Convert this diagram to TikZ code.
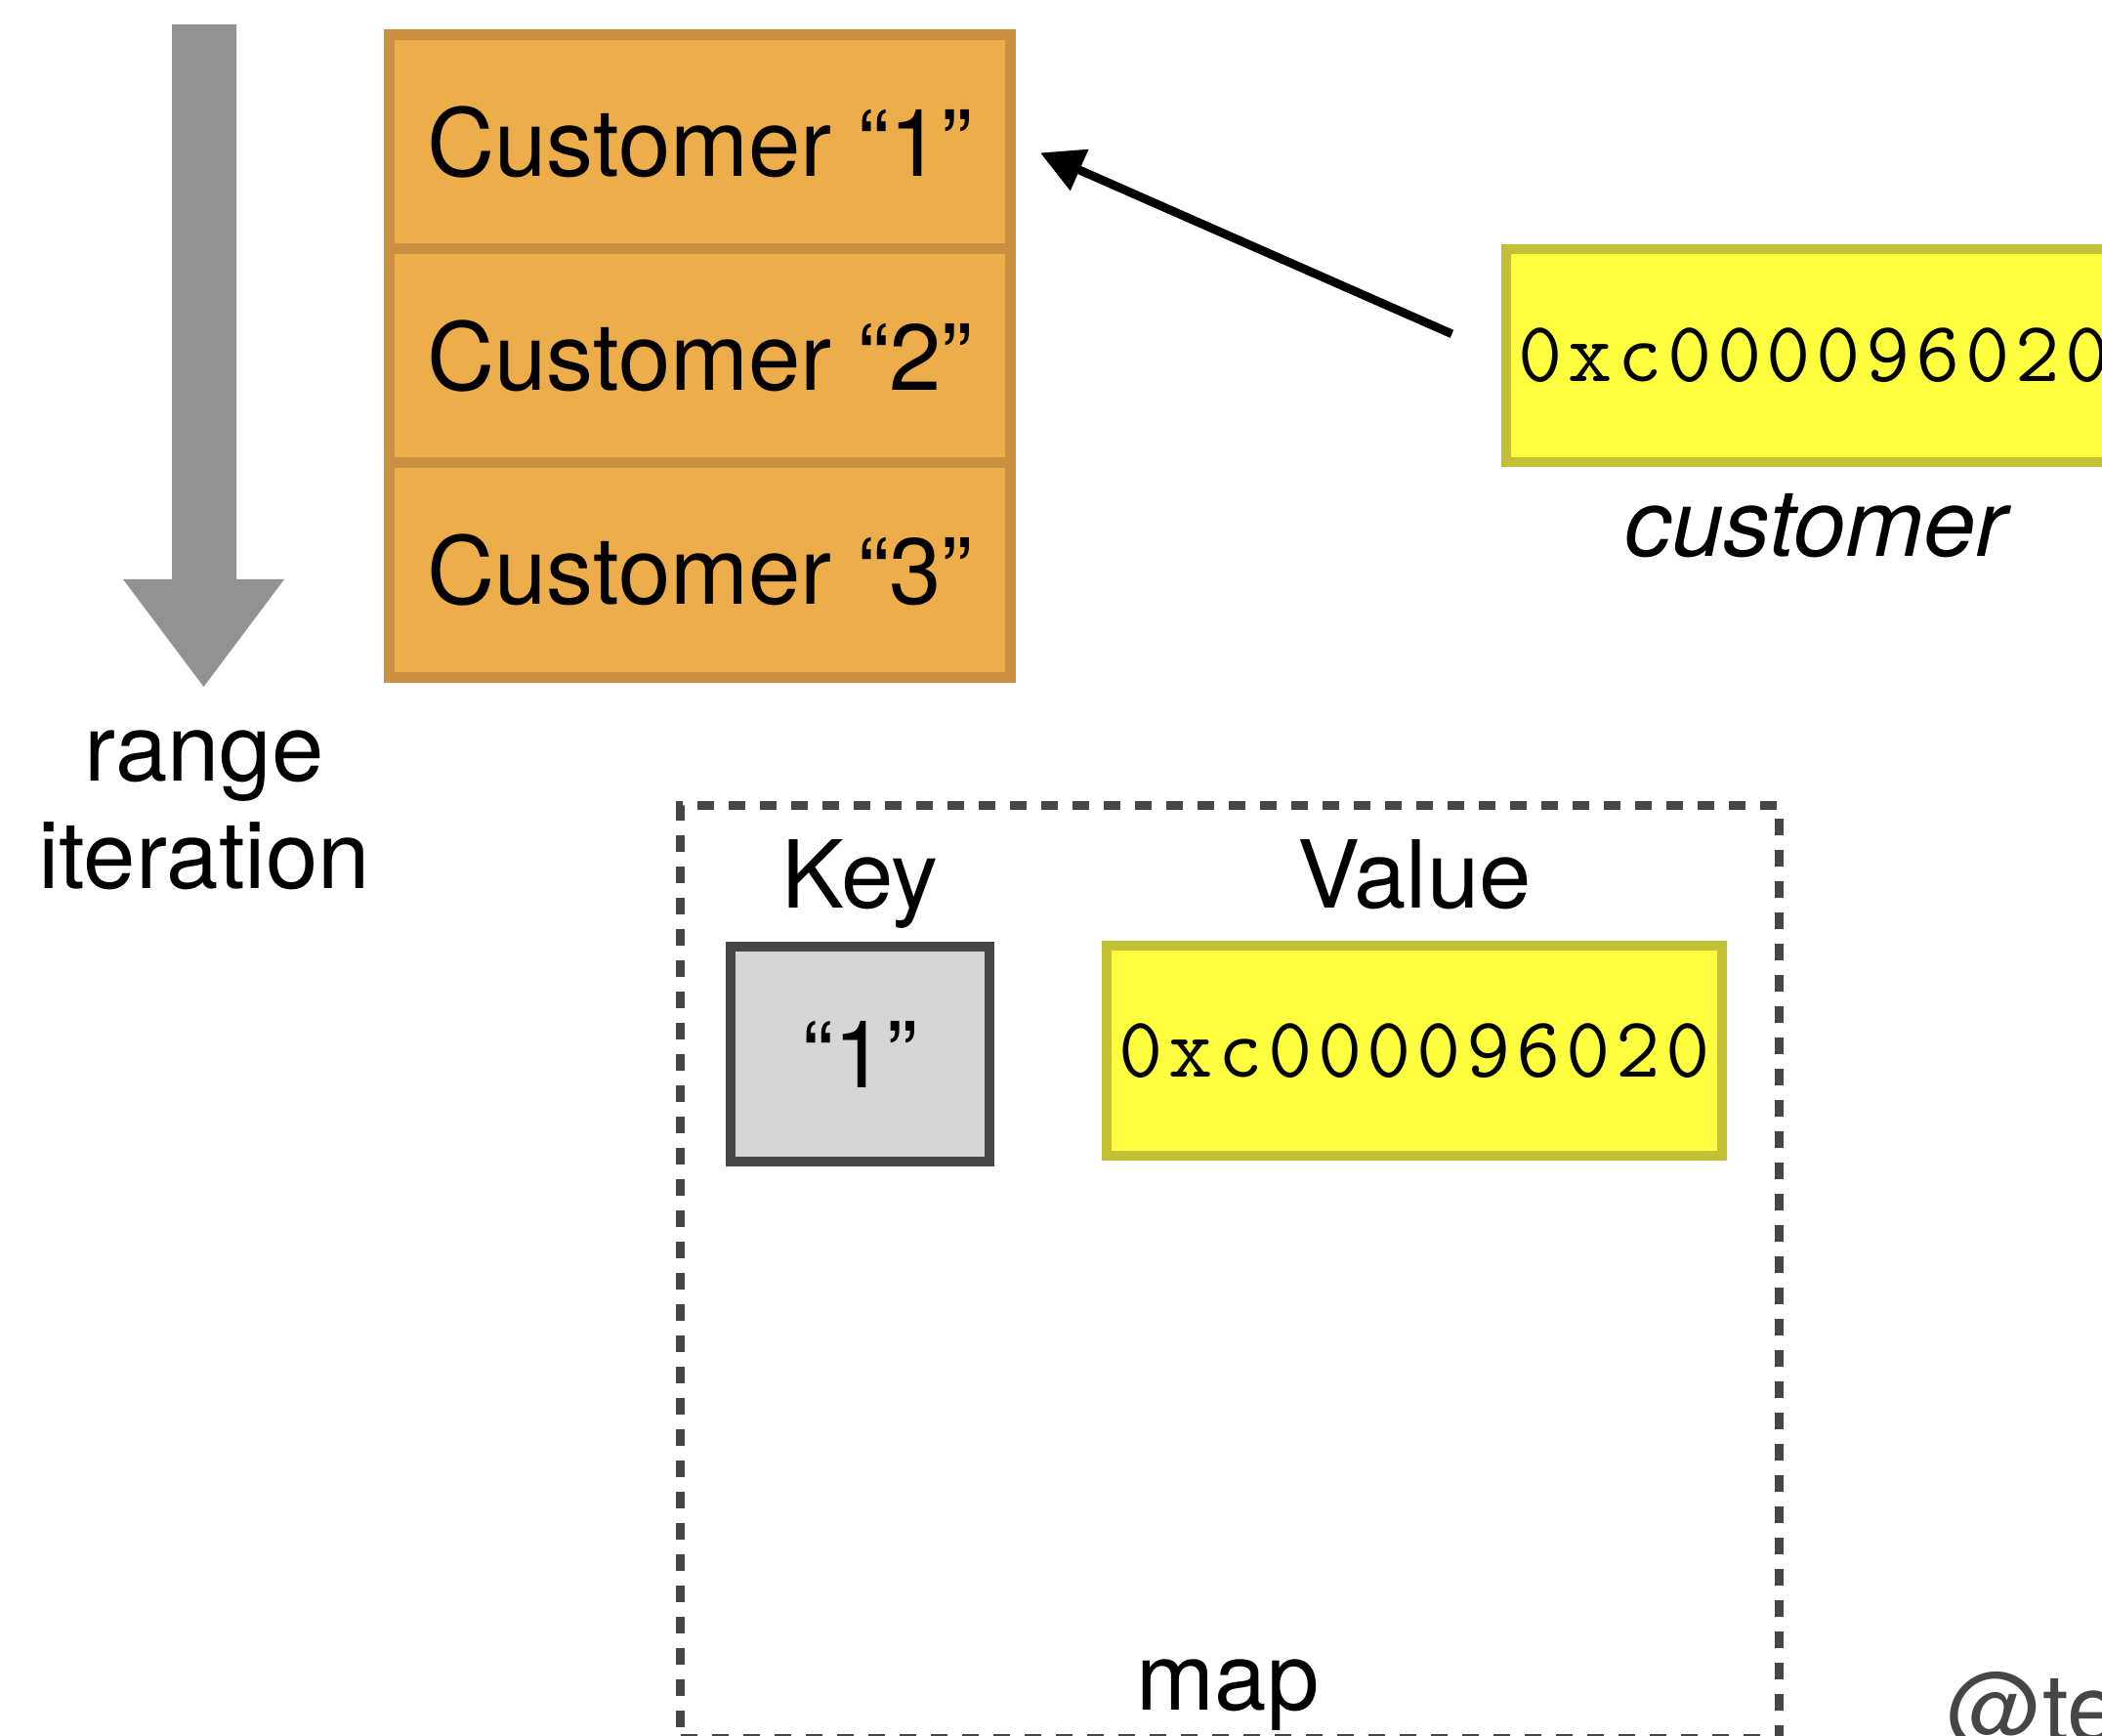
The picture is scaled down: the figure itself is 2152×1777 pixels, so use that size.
\documentclass[tikz,border=0pt]{standalone}
\usepackage{fontspec}
\setmainfont{TeX Gyre Heros}
\newfontfamily\hexfont{Latin Modern Mono}[LetterSpace=6.4]
\usetikzlibrary{arrows.meta}
\definecolor{orfill}{HTML}{ECAD4A}
\definecolor{ordraw}{HTML}{C9913F}
\definecolor{yefill}{HTML}{FFFF40}
\definecolor{yedraw}{HTML}{C2C034}
\definecolor{kyfill}{HTML}{D6D6D6}
\definecolor{dkgray}{HTML}{464646}
\definecolor{arrgray}{HTML}{929292}
\tikzset{
  bigtxt/.style={font=\fontsize{27.3}{32}\selectfont},
  hextxt/.style={font=\hexfont\fontsize{25}{30}\selectfont},
  custbox/.style={draw=ordraw, fill=orfill, line width=0.11cm, minimum width=6.36cm, minimum height=2.19cm, inner sep=0pt, bigtxt},
  addrbox/.style={draw=yedraw, fill=yefill, line width=0.1cm, minimum width=6.3cm, minimum height=2.14cm, inner sep=0pt, hextxt},
  keybox/.style={draw=dkgray, fill=kyfill, line width=0.1cm, minimum width=2.65cm, minimum height=2.2cm, inner sep=0pt, bigtxt},
  lbl/.style={bigtxt, anchor=base, inner sep=0pt},
  mapframe/.style={draw=dkgray, line width=0.09cm, dash pattern=on 0.17cm off 0.15cm, minimum width=11.24cm, minimum height=9.54cm, inner sep=0pt},
  ptr/.style={line width=2.5pt, -{Triangle[length=12.5pt,width=12.5pt]}}
}
\begin{document}
\begin{tikzpicture}[x=0.01cm, y=-0.01cm]
\useasboundingbox (0,0) rectangle (2152,1777);
\clip (0,0) rectangle (2152,1777);
% range iteration arrow
\fill[arrgray] (176,25) -- (242,25) -- (242,593) -- (291,593) -- (208.5,703) -- (126,593) -- (176,593) -- cycle;
\node[lbl] (range1) at (209,800) {range};
\node[lbl] (range2) at (209,910) {iteration};
% customers slice
\node[custbox] (c1) at (716.5,145.5) {Customer “1”};
\node[custbox] (c2) at (716.5,364.5) {Customer “2”};
\node[custbox] (c3) at (716.5,583.5) {Customer “3”};
% customer variable
\node[addrbox, minimum height=2.18cm] (cvar) at (1857,364) {0xc000096020};
\node[lbl, font=\itshape\fontsize{27.3}{32}\selectfont] (cvarlbl) at (1859,570) {customer};
\draw[ptr, shorten <=0.55cm, shorten >=0.27cm] (cvar.west) -- (c1.east);
% map
\node[mapframe] (mapbox) at (1259,1302) {};
\node[lbl] (keylbl) at (880.5,930) {Key};
\node[lbl] (vallbl) at (1448,930) {Value};
\node[keybox] (key1) at (880.5,1079) {“1”};
\node[addrbox] (val1) at (1448,1075.5) {0xc000096020};
\node[lbl] (maplbl) at (1257,1750) {map};
\node[lbl, anchor=base west, text=dkgray] (handle) at (1993,1782) {@te};
\end{tikzpicture}
\end{document}
